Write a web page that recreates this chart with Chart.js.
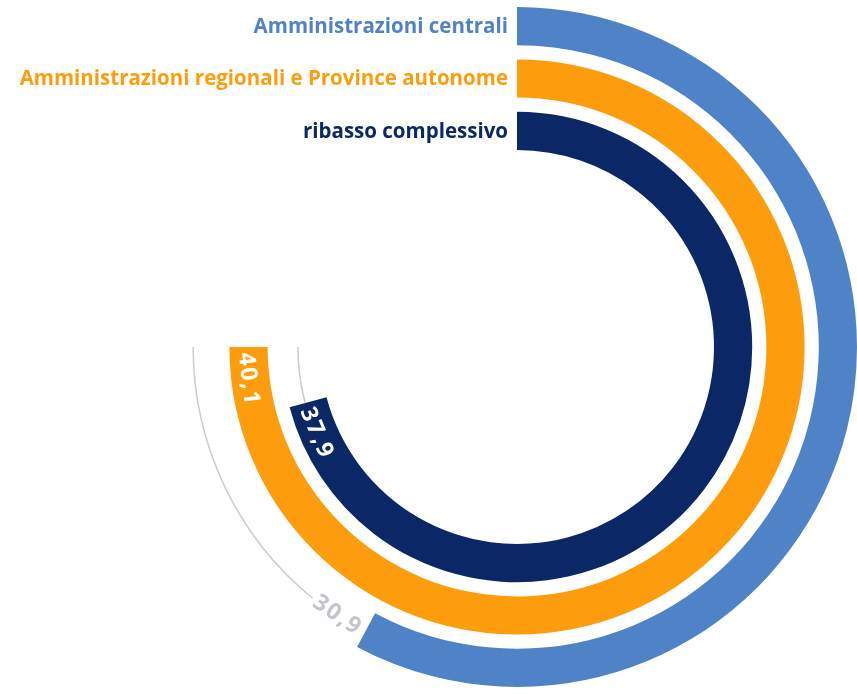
<!DOCTYPE html>
<html>
<head>
<meta charset="utf-8">
<script src="https://cdn.jsdelivr.net/npm/chart.js@4.4.1/dist/chart.umd.min.js"></script>
<style>
  html, body { margin: 0; padding: 0; background: #ffffff; }
  canvas { display: block; }
</style>
</head>
<body>
<canvas id="radialChart" width="857" height="694"></canvas>
<script>
// Dati
const categories = ['Amministrazioni centrali', 'Amministrazioni regionali e Province autonome', 'ribasso complessivo'];
const values = [30.9, 40.1, 37.9];
const colors = ['#4f82c6', '#fd9d0d', '#0c2766'];
const scaleMax = Math.max(...values);

const FONT = '"Open Sans", "Noto Sans", sans-serif';

function formatValue(v) {
    return v.toFixed(1).replace('.', ',');
}

// Costruzione dei dataset (anelli + spaziatori)
const datasets = [];
categories.forEach(function(cat, i) {
    datasets.push({
        label: cat,
        data: [values[i], scaleMax - values[i]],
        backgroundColor: [colors[i], 'rgba(0,0,0,0)'],
        borderWidth: 0,
        weight: 38.3,
        isRing: true,
        ringIndex: i
    });
    if (i < categories.length - 1) {
        datasets.push({
            data: [1],
            backgroundColor: ['rgba(0,0,0,0)'],
            borderWidth: 0,
            weight: 14.2,
            isRing: false
        });
    }
});

// Etichette: nomi, valori e traccia grigia
const ringLabels = {
    id: 'ringLabels',
    afterDatasetsDraw(chart) {
        const ctx = chart.ctx;
        chart.data.datasets.forEach(function(ds, di) {
            if (!ds.isRing) return;
            const arc = chart.getDatasetMeta(di).data[0];
            const p = arc.getProps(['x', 'y', 'startAngle', 'endAngle', 'innerRadius', 'outerRadius'], true);
            const midR = (p.innerRadius + p.outerRadius) / 2;
            const fullEnd = p.startAngle + Math.PI * 1.5;
            const i = ds.ringIndex;

            // nome categoria
            ctx.save();
            ctx.font = 'bold 20.5px ' + FONT;
            ctx.fillStyle = colors[i];
            ctx.textAlign = 'right';
            ctx.textBaseline = 'middle';
            ctx.fillText(categories[i], p.x - 9, p.y - midR + 1);
            ctx.restore();

            // valore
            ctx.save();
            ctx.font = 'bold 23px ' + FONT;
            ctx.letterSpacing = '2px';
            const txt = formatValue(values[i]);
            const w = ctx.measureText(txt).width;
            const pad = 5;
            const full = Math.abs(fullEnd - p.endAngle) < 0.01;
            const inside = i !== 0;
            let mid, trackFrom;
            if (inside) {
                mid = p.endAngle - (pad + w / 2) / midR;
                ctx.fillStyle = '#ffffff';
                trackFrom = p.endAngle;
            } else {
                mid = p.endAngle + (pad + w / 2) / midR;
                ctx.fillStyle = '#c3c5cb';
                trackFrom = p.endAngle + (pad + w + 3) / midR;
            }
            const lr = midR + 2;
            ctx.translate(p.x + lr * Math.cos(mid), p.y + lr * Math.sin(mid));
            ctx.rotate(mid - Math.PI / 2);
            ctx.textAlign = 'center';
            ctx.textBaseline = 'middle';
            ctx.fillText(txt, 0, 0);
            ctx.restore();

            // traccia grigia fino a 270°
            if (!full && trackFrom < fullEnd) {
                ctx.save();
                ctx.strokeStyle = '#cdcdcd';
                ctx.lineWidth = 1.5;
                ctx.beginPath();
                ctx.arc(p.x, p.y, midR + 3, trackFrom, fullEnd);
                ctx.stroke();
                ctx.restore();
            }
        });
    }
};

new Chart(document.getElementById('radialChart').getContext('2d'), {
    type: 'doughnut',
    data: {
        labels: ['valore', 'resto'],
        datasets: datasets
    },
    options: {
        responsive: false,
        animation: false,
        devicePixelRatio: 1,
        events: [],
        rotation: 0,
        circumference: 270,
        cutout: 197,
        layout: { padding: { left: 177, right: 0, top: 7, bottom: 7 } },
        plugins: {
            legend: { display: false },
            tooltip: { enabled: false }
        }
    },
    plugins: [ringLabels]
});
</script>
</body>
</html>
